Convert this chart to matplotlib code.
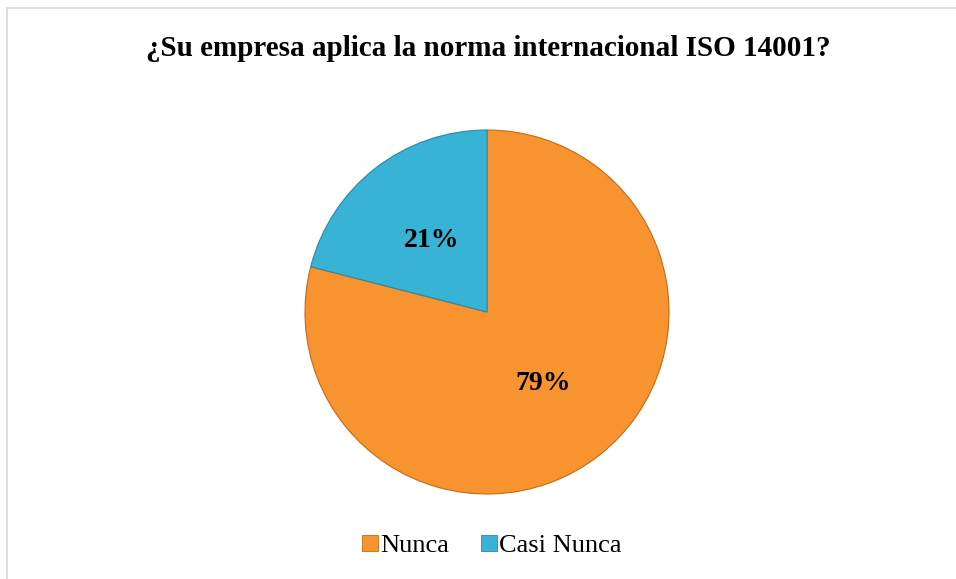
import matplotlib
matplotlib.use("Agg")
import matplotlib.pyplot as plt
from matplotlib.patches import Rectangle, Patch

title = "¿Su empresa aplica la norma internacional ISO 14001?"
categories = ["Nunca", "Casi Nunca"]
values = [79, 21]
colors = ["#F7942F", "#38B2D5"]
edge_colors = ["#C46A14", "#2A8AA6"]

W, H = 956, 579
fig = plt.figure(figsize=(W / 100, H / 100), dpi=100)
fig.patch.set_facecolor("white")

# chart border
fig.add_artist(Rectangle((7 / W, -0.05), 1.1, 1 - 8 / H + 0.05, transform=fig.transFigure,
                         fill=False, edgecolor="#D9D9D9", linewidth=1.2))

cx, cy, r = 487, 312, 182
ax = fig.add_axes([(cx - r) / W, 1 - (cy + r) / H, 2 * r / W, 2 * r / H])
wedges, texts, autotexts = ax.pie(
    values, colors=colors, startangle=90, counterclock=False,
    autopct=lambda p: f"{p:.0f}%", pctdistance=0.5, radius=1.0,
    textprops=dict(fontfamily="Liberation Serif", fontweight="bold", fontsize=20, color="black"))
for w, ec in zip(wedges, edge_colors):
    w.set_edgecolor(ec)
    w.set_linewidth(0.8)
ax.set_xlim(-1, 1)
ax.set_ylim(-1, 1)
ax.set_aspect("equal")
ax.axis("off")

fig.text(488 / W, 1 - 48 / H, title, ha="center", va="center",
         fontfamily="Liberation Serif", fontweight="bold", fontsize=21)

handles = [Patch(facecolor=c, edgecolor=e, linewidth=0.6) for c, e in zip(colors, edge_colors)]
fig.legend(handles, categories, loc="center", bbox_to_anchor=(492 / W, 1 - 546 / H),
           ncol=2, frameon=False, prop=dict(family="Liberation Serif", size=19),
           handlelength=0.6, handleheight=0.6, handletextpad=0.1, columnspacing=1.2)

fig.savefig("out.png", dpi=100, facecolor="white")
